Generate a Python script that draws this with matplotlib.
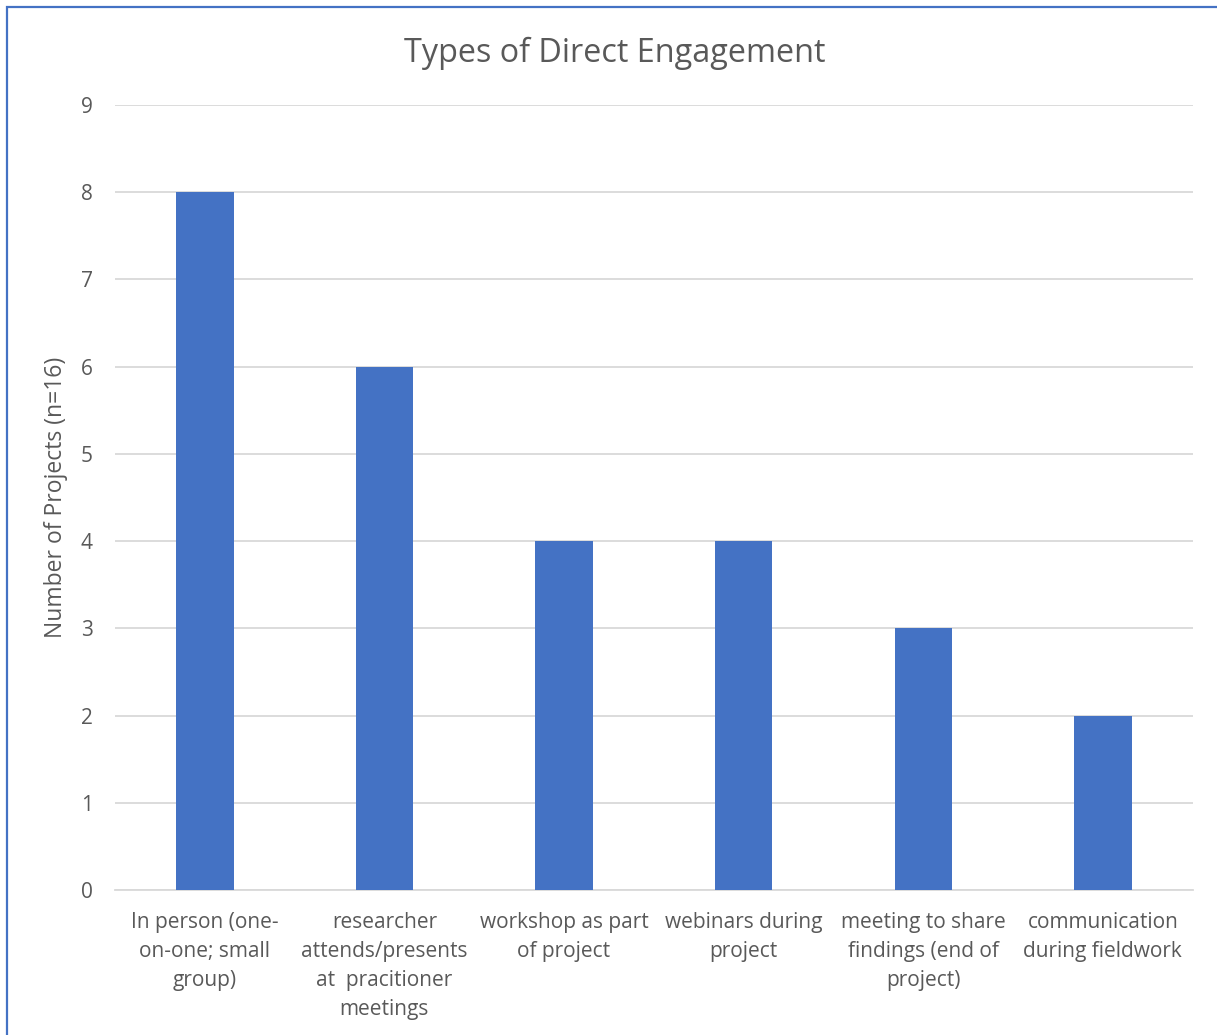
import matplotlib.pyplot as plt
from matplotlib.patches import Rectangle

# engagement types and project counts
categories = [
    "In person (one-\non-one; small\ngroup)",
    "researcher\nattends/presents\nat  pracitioner\nmeetings",
    "workshop as part\nof project",
    "webinars during\nproject",
    "meeting to share\nfindings (end of\nproject)",
    "communication\nduring fieldwork",
]
counts = [8, 6, 4, 4, 3, 2]
yticks = list(range(0, 10))

plt.rcParams['font.family'] = ['Open Sans', 'DejaVu Sans']
grey = '#595959'
blue = '#4472C4'

fig = plt.figure(figsize=(12.17, 10.35), dpi=100)
ax = fig.add_axes([0.0945, 0.140, 0.8855, 0.7586])

x = range(len(categories))
ax.bar(x, counts, width=0.32, color=blue, zorder=3)

ax.set_xlim(-0.5, len(categories) - 0.5)
ax.set_ylim(0, 9)
ax.set_yticks(yticks)
ax.set_xticks(list(x))
ax.set_xticklabels(categories, linespacing=1.5)
ax.tick_params(axis='both', length=0, colors=grey, labelsize=15)
ax.tick_params(axis='y', pad=16)
ax.tick_params(axis='x', pad=16)
ax.grid(axis='y', color='#d9d9d9', lw=1.3, zorder=0)
for s in ['top', 'right', 'left']:
    ax.spines[s].set_visible(False)
ax.spines['bottom'].set_color('#d9d9d9')
ax.spines['bottom'].set_linewidth(1.3)

ax.set_ylabel('Number of Projects (n=16)', color=grey, fontsize=16.5)
ax.yaxis.set_label_coords(-0.044, 0.5)
fig.text(0.505, 0.948, 'Types of Direct Engagement', ha='center', va='center',
         color=grey, fontsize=23.3)

# chart frame, left and top edges visible
fig.patches.append(Rectangle((7 / 1217, -0.1), 1.2, 1.1 - 7 / 1035,
                             transform=fig.transFigure, fill=False,
                             edgecolor=blue, lw=1.6))

fig.savefig('out.png', dpi=100)
